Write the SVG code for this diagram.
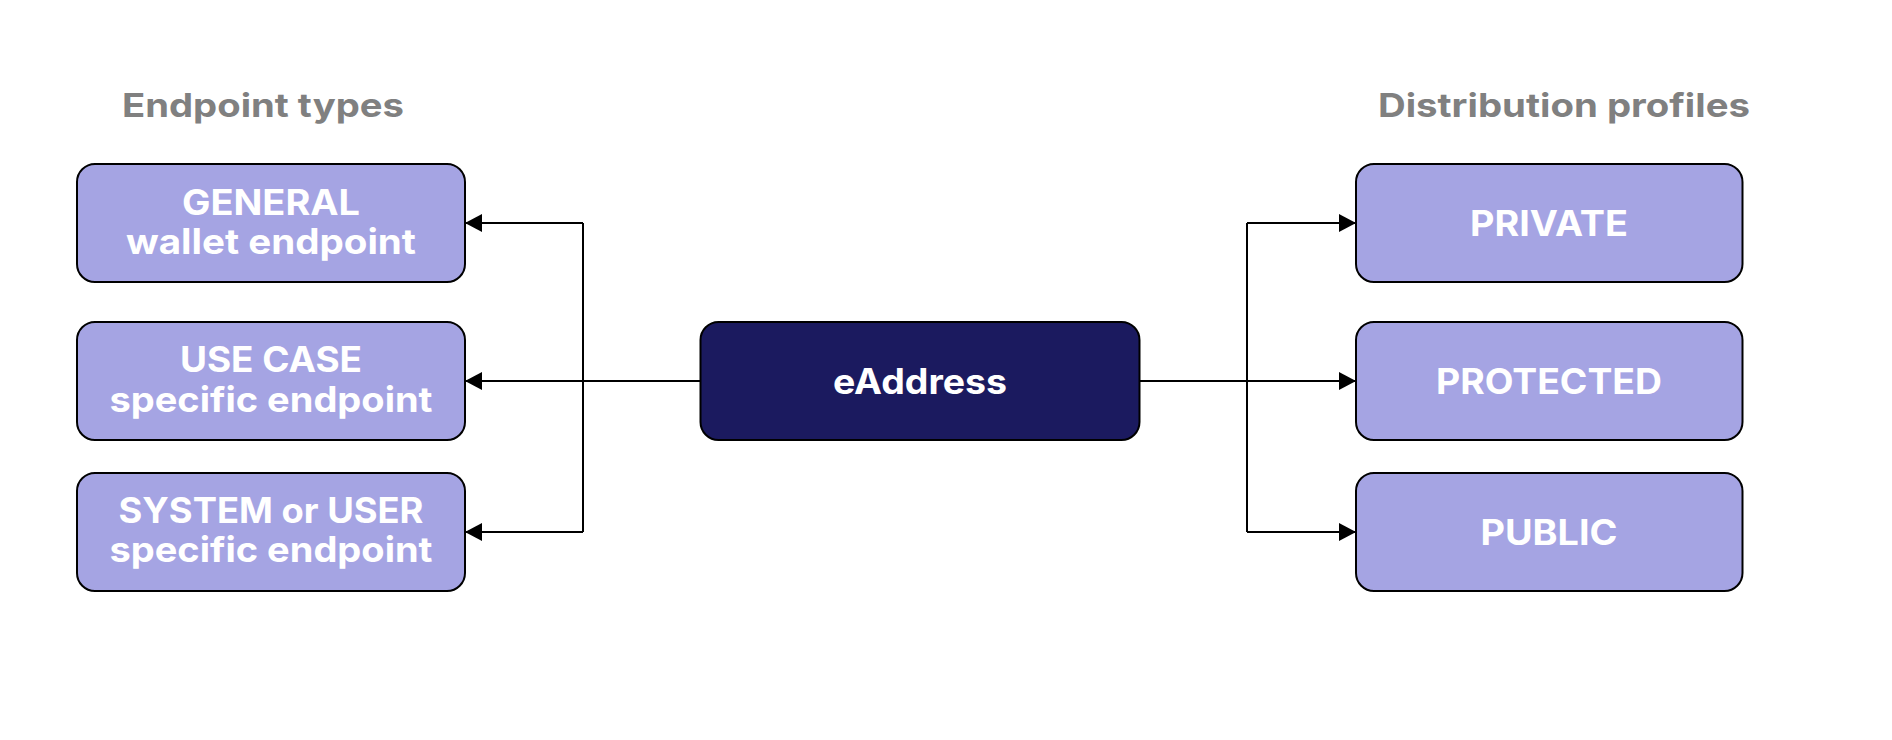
<svg xmlns="http://www.w3.org/2000/svg" width="1892" height="740" viewBox="0 0 1892 740">
  <defs>
    <marker id="arrow" viewBox="0 0 17 18" refX="17" refY="9" markerWidth="17" markerHeight="18" markerUnits="userSpaceOnUse" orient="auto">
      <path d="M0,0 L17,9 L0,18 Z" fill="#000"/>
    </marker>
    <style>
      .bg { fill: #ffffff; }
      .title { font-family: "Inter", "Open Sans", "Liberation Sans", sans-serif; font-weight: 700; font-size: 33px; fill: #808080; text-anchor: middle; }
      .label { font-family: "Inter", "Open Sans", "Liberation Sans", sans-serif; font-weight: 700; font-size: 35px; fill: #ffffff; text-anchor: middle; }
      .light { fill: #a5a4e3; stroke: #000; stroke-width: 2; }
      .dark { fill: #1b1a5f; stroke: #000; stroke-width: 2; }
      .conn { fill: none; stroke: #000; stroke-width: 2; }
    </style>
  </defs>
  <rect class="bg" x="0" y="0" width="1892" height="740"/>

  <g id="title-endpoint-types">
    <text class="title" x="263" y="117" textLength="282" lengthAdjust="spacingAndGlyphs">Endpoint types</text>
  </g>
  <g id="title-distribution-profiles">
    <text class="title" x="1564" y="117" textLength="372" lengthAdjust="spacingAndGlyphs">Distribution profiles</text>
  </g>

  <g id="connectors">
    <path class="conn" d="M700.5,381 L465,381" marker-end="url(#arrow)"/>
    <path class="conn" d="M583,223 L583,532"/>
    <path class="conn" d="M583,223 L465,223" marker-end="url(#arrow)"/>
    <path class="conn" d="M583,532 L465,532" marker-end="url(#arrow)"/>
    <path class="conn" d="M1139.5,381 L1356,381" marker-end="url(#arrow)"/>
    <path class="conn" d="M1247,223 L1247,532"/>
    <path class="conn" d="M1247,223 L1356,223" marker-end="url(#arrow)"/>
    <path class="conn" d="M1247,532 L1356,532" marker-end="url(#arrow)"/>
  </g>

  <g id="node-general">
    <rect class="light" x="77" y="164" width="388" height="118" rx="18" ry="18"/>
    <text class="label" x="271" y="215" textLength="178" lengthAdjust="spacingAndGlyphs">GENERAL</text>
    <text class="label" x="271" y="254" textLength="290" lengthAdjust="spacingAndGlyphs">wallet endpoint</text>
  </g>
  <g id="node-use-case">
    <rect class="light" x="77" y="322" width="388" height="118" rx="18" ry="18"/>
    <text class="label" x="271" y="372" textLength="182" lengthAdjust="spacingAndGlyphs">USE CASE</text>
    <text class="label" x="271" y="412" textLength="323" lengthAdjust="spacingAndGlyphs">specific endpoint</text>
  </g>
  <g id="node-system-user">
    <rect class="light" x="77" y="473" width="388" height="118" rx="18" ry="18"/>
    <text class="label" x="271" y="523" textLength="305" lengthAdjust="spacingAndGlyphs">SYSTEM or USER</text>
    <text class="label" x="271" y="562" textLength="323" lengthAdjust="spacingAndGlyphs">specific endpoint</text>
  </g>

  <g id="node-eaddress">
    <rect class="dark" x="700.5" y="322" width="439" height="118" rx="18" ry="18"/>
    <text class="label" x="920" y="394" textLength="174" lengthAdjust="spacingAndGlyphs">eAddress</text>
  </g>

  <g id="node-private">
    <rect class="light" x="1356" y="164" width="386.5" height="118" rx="18" ry="18"/>
    <text class="label" x="1549" y="236" textLength="158" lengthAdjust="spacingAndGlyphs">PRIVATE</text>
  </g>
  <g id="node-protected">
    <rect class="light" x="1356" y="322" width="386.5" height="118" rx="18" ry="18"/>
    <text class="label" x="1549" y="394" textLength="226" lengthAdjust="spacingAndGlyphs">PROTECTED</text>
  </g>
  <g id="node-public">
    <rect class="light" x="1356" y="473" width="386.5" height="118" rx="18" ry="18"/>
    <text class="label" x="1549" y="545" textLength="137" lengthAdjust="spacingAndGlyphs">PUBLIC</text>
  </g>
</svg>
